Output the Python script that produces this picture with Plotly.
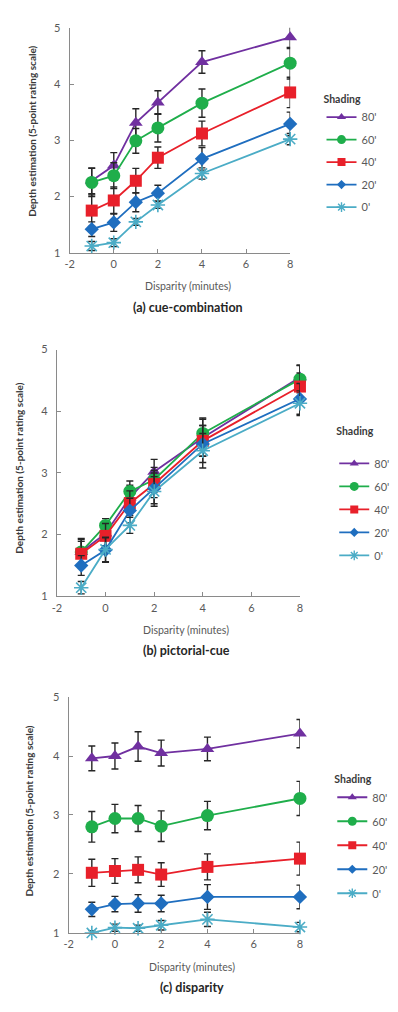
import plotly.graph_objects as go

disparity = [-1, 0, 1, 2, 4, 8]
shading_labels = ["80'", "60'", "40'", "20'", "0'"]
panel_titles = ["(a) cue-combination", "(b) pictorial-cue", "(c) disparity"]

# Panel (a) cue-combination
a80 = [2.28, 2.55, 3.31, 3.67, 4.39, 4.83]
a60 = [2.25, 2.37, 2.99, 3.22, 3.66, 4.37]
a40 = [1.75, 1.93, 2.28, 2.69, 3.12, 3.85]
a20 = [1.42, 1.54, 1.90, 2.06, 2.67, 3.29]
a0 = [1.12, 1.18, 1.55, 1.85, 2.41, 3.02]
a80e = [0.23, 0.23, 0.25, 0.21, 0.20, 0.20]
a60e = [0.25, 0.23, 0.22, 0.25, 0.25, 0.28]
a40e = [0.28, 0.24, 0.22, 0.19, 0.22, 0.27]
a20e = [0.13, 0.16, 0.17, 0.14, 0.20, 0.21]
a0e = [0.08, 0.07, 0.06, 0.06, 0.10, 0.10]

# Panel (b) pictorial-cue
b80 = [1.72, 2.02, 2.60, 3.02, 3.57, 4.55]
b60 = [1.72, 2.15, 2.70, 2.89, 3.64, 4.52]
b40 = [1.69, 1.98, 2.51, 2.82, 3.52, 4.40]
b20 = [1.50, 1.75, 2.39, 2.75, 3.47, 4.20]
b0 = [1.14, 1.76, 2.15, 2.70, 3.36, 4.13]
b80e = [0.22, 0.20, 0.20, 0.20, 0.30, 0.20]
b60e = [0.20, 0.11, 0.17, 0.20, 0.25, 0.22]
b40e = [0.20, 0.20, 0.20, 0.22, 0.25, 0.22]
b20e = [0.16, 0.20, 0.20, 0.25, 0.30, 0.25]
b0e = [0.10, 0.20, 0.13, 0.24, 0.28, 0.20]

# Panel (c) disparity
c80 = [3.96, 4.00, 4.16, 4.05, 4.12, 4.38]
c60 = [2.80, 2.94, 2.94, 2.81, 2.99, 3.28]
c40 = [2.02, 2.05, 2.07, 1.99, 2.12, 2.26]
c20 = [1.40, 1.49, 1.50, 1.50, 1.61, 1.61]
c0 = [1.00, 1.09, 1.08, 1.13, 1.23, 1.10]
c80e = [0.21, 0.22, 0.25, 0.22, 0.20, 0.24]
c60e = [0.26, 0.24, 0.22, 0.26, 0.24, 0.29]
c40e = [0.23, 0.21, 0.22, 0.20, 0.22, 0.28]
c20e = [0.12, 0.13, 0.15, 0.14, 0.21, 0.20]
c0e = [0.04, 0.06, 0.05, 0.08, 0.12, 0.08]

x_ticks = [-2, 0, 2, 4, 6, 8]
x_tick_labels = ["-2", "0", "2", "4", "6", "8"]
y_ticks = [1, 2, 3, 4, 5]

panels = [
    ([a80, a60, a40, a20, a0], [a80e, a60e, a40e, a20e, a0e]),
    ([b80, b60, b40, b20, b0], [b80e, b60e, b40e, b20e, b0e]),
    ([c80, c60, c40, c20, c0], [c80e, c60e, c40e, c20e, c0e]),
]

colors = ["#7030A0", "#1FAE4B", "#E8202A", "#1F6EBF", "#4BACC6"]
symbols = ["triangle-up", "circle", "square", "diamond", "asterisk-open"]
sizes = [12, 13, 12, 11, 12]
leg_sizes = [8, 9, 8, 7, 8]

W, H = 398, 1012
FONT = "Lato"
AX = "#8a8a8a"
TXT = "#595959"

# pixel boxes of plotting areas: (left, right, top, bottom)
boxes = [(66, 291, 21, 249), (53, 301, 347, 597), (65, 301, 699, 938)]
ytitle_x = [28, 14, 25]
ytitle_shift = [9, 5, 4]
legend_pos = [(323, 83), (336, 420), (334, 772)]
legend_titles = ["<b>Shading</b>", "<b>Shading</b><br>&nbsp;", "<b>Shading</b>"]
legend_gaps = [3.5, 4, 5]

fig = go.Figure()
layout = dict(
    width=W, height=H, margin=dict(l=0, r=0, t=0, b=0),
    paper_bgcolor="white", plot_bgcolor="white",
    font=dict(family=FONT, size=11, color=TXT),
    showlegend=True,
)
annotations = []

for p, (means, errs) in enumerate(panels):
    sfx = "" if p == 0 else str(p + 1)
    leg = "legend" if p == 0 else "legend" + str(p + 1)
    for i in range(5):
        fig.add_trace(go.Scatter(
            x=disparity, y=means[i], name=shading_labels[i],
            mode="lines+markers", showlegend=False,
            xaxis="x" + sfx, yaxis="y" + sfx,
            legendgroup=f"p{p}s{i}",
            line=dict(color=colors[i], width=1.8),
            marker=dict(symbol=symbols[i], size=sizes[i], color=colors[i],
                        line=dict(color=colors[i], width=1.6 if i == 4 else 0)),
            error_y=dict(type="data", array=errs[i], visible=True,
                         color="#262626", thickness=1.4, width=3.5),
            cliponaxis=False,
        ))
    for i in range(5):
        fig.add_trace(go.Scatter(
            x=[None], y=[None], name=shading_labels[i],
            mode="lines+markers", showlegend=True,
            xaxis="x" + sfx, yaxis="y" + sfx, legend=leg,
            legendgroup=f"p{p}s{i}",
            line=dict(color=colors[i], width=1.8),
            marker=dict(symbol=symbols[i], size=leg_sizes[i], color=colors[i],
                        line=dict(color=colors[i], width=1.4 if i == 4 else 0)),
        ))
    l, r, t, b = boxes[p]
    layout["xaxis" + sfx] = dict(
        domain=[l / W, r / W], anchor="y" + sfx, range=[-2, 8],
        tickvals=x_ticks, ticktext=x_tick_labels, ticks="inside", ticklen=4, tickcolor=AX,
        showline=True, linecolor=AX, linewidth=1, showgrid=False, zeroline=False,
        tickfont=dict(size=11, color=TXT, family=FONT), ticklabelstandoff=1,
    )
    layout["yaxis" + sfx] = dict(
        domain=[1 - b / H, 1 - t / H], anchor="x" + sfx, range=[1, 5],
        tickvals=y_ticks, ticks="inside", ticklen=4, tickcolor=AX,
        showline=True, linecolor=AX, linewidth=1, showgrid=False, zeroline=False,
        tickfont=dict(size=11, color=TXT, family=FONT), ticklabelstandoff=6,
    )
    cx = (l + r) / 2 + 8
    annotations.append(dict(
        text="Disparity (minutes)", x=cx / W, y=1 - (b + 34) / H,
        xref="paper", yref="paper", showarrow=False, xanchor="center", yanchor="middle",
        font=dict(size=10.5, color=TXT, family=FONT)))
    annotations.append(dict(
        text="<b>" + panel_titles[p] + "</b>", x=cx / W, y=1 - (b + 55) / H,
        xref="paper", yref="paper", showarrow=False, xanchor="center", yanchor="middle",
        font=dict(size=12.5, color="#262626", family=FONT)))
    annotations.append(dict(
        text="<b>Depth estimation (5-point rating scale)</b>", x=ytitle_x[p] / W,
        y=1 - ((t + b) / 2 - ytitle_shift[p]) / H, textangle=-90,
        xref="paper", yref="paper", showarrow=False, xanchor="center", yanchor="middle",
        font=dict(size=10, color="#3a3a3a", family=FONT)))
    lx, ly = legend_pos[p]
    layout[leg] = dict(
        x=lx / W, y=1 - ly / H, xanchor="left", yanchor="top",
        title=dict(text=legend_titles[p], font=dict(size=10.5, color="#3a3a3a", family=FONT)),
        font=dict(size=11, color=TXT, family=FONT),
        bgcolor="rgba(0,0,0,0)", tracegroupgap=legend_gaps[p], itemwidth=30,
    )

layout["annotations"] = annotations
fig.update_layout(**layout)
fig.write_html("out.html", config={"displayModeBar": False},
               post_script="document.body.style.margin='0px';")
